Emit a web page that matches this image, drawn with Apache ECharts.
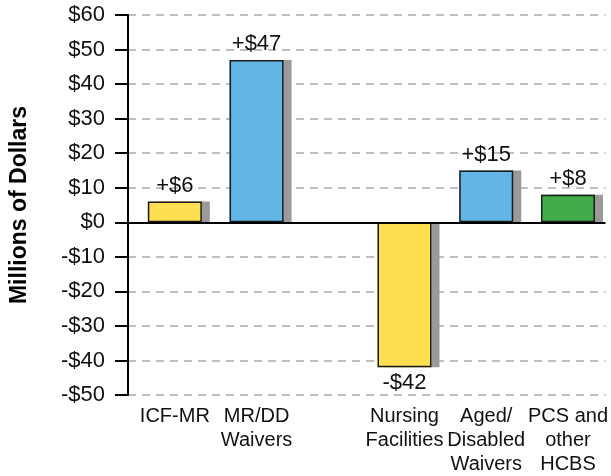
<!DOCTYPE html>
<html>
<head>
<meta charset="utf-8">
<script src="https://cdn.jsdelivr.net/npm/echarts@6/dist/echarts.min.js"></script>
<style>
  html, body { margin: 0; padding: 0; background: #fff; }
  #container { width: 611px; height: 476px; }
</style>
</head>
<body>
<div id="container"></div>
<script>
// data (millions of dollars)
var categories = ['ICF-MR', 'MR/DD\nWaivers', 'Nursing\nFacilities', 'Aged/\nDisabled\nWaivers', 'PCS and\nother\nHCBS'];
var values = [6, 47, -42, 15, 8];
var barColors = ['#FEDF50', '#62B5E5', '#FEDF50', '#62B5E5', '#41AC48'];
var yMin = -50, yMax = 60, yStep = 10;

// layout: the chart leaves a wider gap after the second bar
var gapAfter = 2, gapSlots = 1.81;
var xMin = -0.573, xMax = 5.268;

var font = 'Liberation Sans, Arial, Helvetica, sans-serif';

var positions = [];
for (var i = 0; i < categories.length; i++) {
    positions.push(i < gapAfter ? i : i + gapSlots - 1);
}

var fillData = [], frameData = [];
for (var i = 0; i < values.length; i++) {
    fillData.push({ value: [positions[i], values[i]], itemStyle: { color: barColors[i] } });
    frameData.push({
        value: [positions[i], values[i]],
        label: { position: values[i] >= 0 ? 'top' : 'bottom' }
    });
}

function money(v) {
    return v < 0 ? '-$' + Math.abs(v) : '$' + v;
}

function categoryAt(v) {
    var best = 0;
    for (var i = 1; i < positions.length; i++) {
        if (Math.abs(positions[i] - v) < Math.abs(positions[best] - v)) best = i;
    }
    return categories[best];
}

var dom = document.getElementById('container');
var myChart = echarts.init(dom, null, { renderer: 'canvas' });
var option = {
    animation: false,
    backgroundColor: '#fff',
    grid: { left: 128, right: 4, top: 15, bottom: 79, containLabel: false },
    xAxis: {
        type: 'value',
        min: xMin, max: xMax,
        axisLine: { show: false, onZero: false },
        axisTick: { show: false },
        splitLine: { show: false },
        axisLabel: {
            customValues: positions,
            formatter: categoryAt,
            color: '#111', fontFamily: font, fontSize: 20,
            lineHeight: 24, margin: 9
        }
    },
    yAxis: {
        type: 'value',
        min: yMin, max: yMax, interval: yStep,
        name: 'Millions of Dollars',
        nameLocation: 'middle',
        nameGap: 97,
        nameTextStyle: { color: '#000', fontFamily: font, fontSize: 23, fontWeight: 'bold' },
        axisLine: { show: true, onZero: false, lineStyle: { color: '#000', width: 2 } },
        axisTick: { show: true, length: 13, lineStyle: { color: '#000', width: 2 } },
        axisLabel: {
            color: '#111', fontFamily: font, fontSize: 22, margin: 23,
            formatter: money
        },
        splitLine: { show: true, lineStyle: { color: '#aaa', width: 1.5, type: [8, 6] } }
    },
    series: [{
        // coloured fill with the grey drop shadow on its right
        type: 'bar',
        data: fillData,
        barWidth: 54,
        barGap: '-100%',
        itemStyle: {
            borderWidth: 0,
            shadowColor: '#9a9a9a', shadowBlur: 0, shadowOffsetX: 8, shadowOffsetY: 0
        }
    }, {
        // dark outline and value labels
        type: 'bar',
        data: frameData,
        barWidth: 54,
        barGap: '-100%',
        itemStyle: { color: 'rgba(0,0,0,0)', borderColor: '#1a1a1a', borderWidth: 1.5 },
        label: {
            show: true, distance: 5,
            color: '#111', fontFamily: font, fontSize: 22,
            formatter: function (p) {
                var v = p.value[1];
                return v >= 0 ? '+$' + v : '-$' + Math.abs(v);
            }
        },
        markLine: {
            silent: true,
            symbol: 'none',
            label: { show: false },
            lineStyle: { color: '#000', width: 2, type: 'solid' },
            data: [{ yAxis: 0 }]
        }
    }]
};

if (option && typeof option === 'object') {
    myChart.setOption(option);
}
</script>
</body>
</html>
